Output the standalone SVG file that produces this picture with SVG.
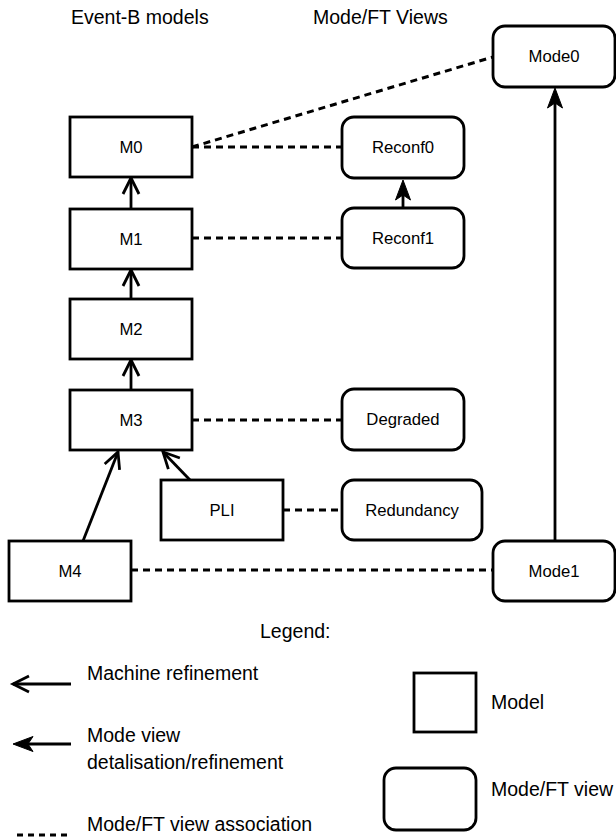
<svg xmlns="http://www.w3.org/2000/svg" width="616" height="838" viewBox="0 0 616 838">
<style>
.box{fill:#fff;stroke:#000;stroke-width:2.8}
.lbl{font-family:"Liberation Sans",Arial,sans-serif;font-size:16.7px;fill:#000;text-anchor:middle}
.txt{font-family:"Liberation Sans",Arial,sans-serif;font-size:19.5px;fill:#000}
.ref{fill:none;stroke:#000;stroke-width:2.8}
.dash{fill:none;stroke:#000;stroke-width:3;stroke-dasharray:7 5}
</style>
<defs>
<marker id="open" markerUnits="userSpaceOnUse" orient="auto" overflow="visible" refX="0" refY="0" markerWidth="1" markerHeight="1">
<path d="M-16,-8 L0,0 L-16,8" fill="none" stroke="#000" stroke-width="2.8"/>
</marker>
<marker id="filled" markerUnits="userSpaceOnUse" orient="auto" overflow="visible" refX="0" refY="0" markerWidth="1" markerHeight="1">
<path d="M4,0 L-16,-7.5 L-11,0 L-16,7.5 Z" fill="#000" stroke="#000" stroke-width="1"/>
</marker>
</defs>

<text class="txt" x="71" y="23.5">Event-B models</text>
<text class="txt" x="313" y="23.5">Mode/FT Views</text>

<g id="connectors">
<line class="dash" x1="192" y1="147" x2="342" y2="147"/>
<line class="dash" x1="192" y1="147" x2="493" y2="57"/>
<line class="dash" x1="192" y1="238" x2="342" y2="238"/>
<line class="dash" x1="192" y1="420" x2="342" y2="420"/>
<line class="dash" x1="283" y1="510" x2="342" y2="510"/>
<line class="dash" x1="131" y1="570" x2="493" y2="570"/>
<line class="ref" x1="131" y1="209" x2="131" y2="178" marker-end="url(#open)"/>
<line class="ref" x1="131" y1="299" x2="131" y2="270" marker-end="url(#open)"/>
<line class="ref" x1="131" y1="390" x2="131" y2="360" marker-end="url(#open)"/>
<line class="ref" x1="83" y1="541" x2="118" y2="452" marker-end="url(#open)"/>
<line class="ref" x1="190" y1="480" x2="163" y2="452" marker-end="url(#open)"/>
<line class="ref" x1="403" y1="208" x2="403" y2="184" marker-end="url(#filled)"/>
<line class="ref" x1="555" y1="541" x2="555" y2="92" marker-end="url(#filled)"/>
</g>

<g id="M0"><rect class="box" x="70" y="117" width="122" height="60"/><text class="lbl" x="131" y="152.5">M0</text></g>
<g id="M1"><rect class="box" x="70" y="209" width="122" height="60"/><text class="lbl" x="131" y="244.5">M1</text></g>
<g id="M2"><rect class="box" x="70" y="299" width="122" height="60"/><text class="lbl" x="131" y="334.5">M2</text></g>
<g id="M3"><rect class="box" x="70" y="390" width="122" height="60"/><text class="lbl" x="131" y="425.5">M3</text></g>
<g id="PLI"><rect class="box" x="161" y="480" width="122" height="60"/><text class="lbl" x="222" y="515.5">PLI</text></g>
<g id="M4"><rect class="box" x="9" y="541" width="122" height="60"/><text class="lbl" x="70" y="576.5">M4</text></g>

<g id="Mode0"><rect class="box" x="493" y="26" width="122" height="61" rx="12"/><text class="lbl" x="554" y="62">Mode0</text></g>
<g id="Reconf0"><rect class="box" x="342" y="117" width="122" height="61" rx="12"/><text class="lbl" x="403" y="153">Reconf0</text></g>
<g id="Reconf1"><rect class="box" x="342" y="208" width="122" height="60" rx="12"/><text class="lbl" x="403" y="243.5">Reconf1</text></g>
<g id="Degraded"><rect class="box" x="342" y="389" width="122" height="61" rx="12"/><text class="lbl" x="403" y="425">Degraded</text></g>
<g id="Redundancy"><rect class="box" x="342" y="480" width="140" height="60" rx="12"/><text class="lbl" x="412" y="515.5">Redundancy</text></g>
<g id="Mode1"><rect class="box" x="493" y="541" width="122" height="60" rx="12"/><text class="lbl" x="554" y="576.5">Mode1</text></g>

<g id="legend">
<text class="txt" x="260" y="638">Legend:</text>
<line class="ref" x1="71" y1="684" x2="13" y2="684" marker-end="url(#open)"/>
<text class="txt" x="87" y="680">Machine refinement</text>
<line class="ref" x1="71" y1="744" x2="17" y2="744" marker-end="url(#filled)"/>
<text class="txt" x="87" y="742">Mode view</text>
<text class="txt" x="87" y="769">detalisation/refinement</text>
<line class="dash" x1="17" y1="835" x2="71" y2="835" style="stroke-dasharray:6 5"/>
<text class="txt" x="87" y="831">Mode/FT view association</text>
<rect class="box" x="414" y="673" width="62" height="59"/>
<text class="txt" x="491" y="709">Model</text>
<rect class="box" x="384" y="768" width="92" height="62" rx="12"/>
<text class="txt" x="491" y="796">Mode/FT view</text>
</g>
</svg>
